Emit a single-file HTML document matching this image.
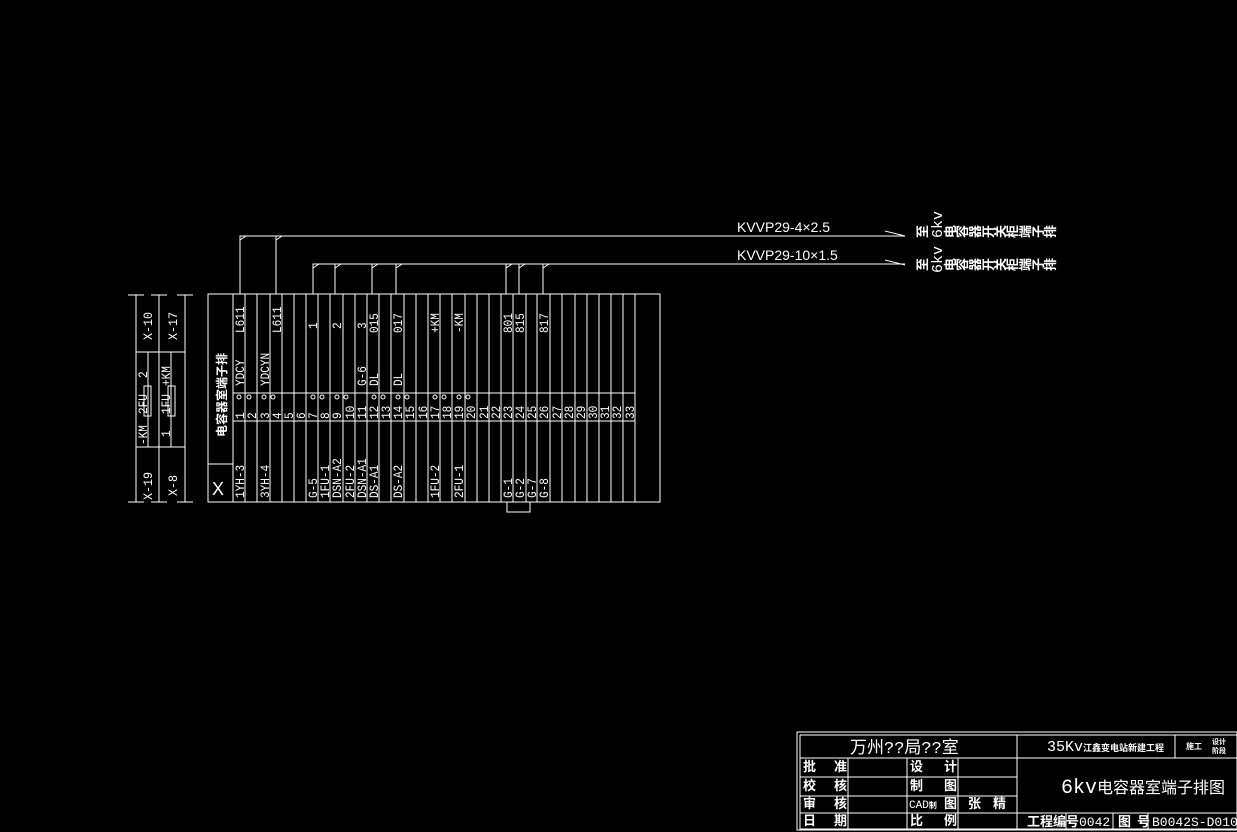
<!DOCTYPE html>
<html><head><meta charset="utf-8"><style>
html,body{margin:0;padding:0;background:#000;}
svg{display:block}
text{fill:#fff;font-family:"Liberation Mono","Noto Sans CJK SC",monospace;font-size:13px}
.c{font-family:"Liberation Sans","Noto Sans CJK SC",sans-serif}
</style></head><body>
<svg width="1237" height="832" viewBox="0 0 1237 832" xmlns="http://www.w3.org/2000/svg">
<g stroke="#fff" stroke-width="1" fill="none">
<path d="M240,294V236H905M885,231L905,236"/>
<path d="M276,294V236"/>
<path d="M313,294V264H905M885,260L905,265"/>
<path d="M335,294V264M372,294V264M396,294V264M506,294V264M519,294V264M543,294V264"/>
<path d="M240,240L246,236M276,240L282,236M313,268L319,264M335,268L341,264M372,268L378,264M396,268L402,264M506,268L512,264M519,268L525,264M543,268L549,264"/>
<rect x="208" y="294" width="452" height="208"/>
<path d="M233,294V502M245,294V502M257,294V502M270,294V502M282,294V502M294,294V502M306,294V502M318,294V502M330,294V502M343,294V502M355,294V502M367,294V502M379,294V502M391,294V502M404,294V502M416,294V502M428,294V502M440,294V502M452,294V502M465,294V502M477,294V502M489,294V502M501,294V502M513,294V502M526,294V502M537,294V502M550,294V502M562,294V502M575,294V502M587,294V502M599,294V502M611,294V502M623,294V502M635,294V502"/>
<path d="M233,393H635M233,421H635M208,464H233"/>
<path d="M507,502V512H530V502"/>
<path d="M136,295V502M159,295V502M185,295V502M128,295H144M151,295H167M177,295H193M128,502H144M151,502H167M177,502H193"/>
<path d="M136,352H185M136,447H185M148,352V447M171,352V447"/>
<rect x="144" y="386" width="7" height="30"/><rect x="168" y="386" width="7" height="30"/>
<rect x="797" y="732" width="440" height="98"/>
<path d="M800,735H1237M800,735V829H1237"/>
<path d="M1017,735V829M1175,735V758M1017,758H1237M1017,813H1237M1066,813V829M1113,813V829M1148,813V829"/>
<path d="M800,758H1017M800,777H1017M800,796H1017M800,813H1017M848,758V829M907,758V829M958,758V829"/>
</g>
<g fill="none" stroke="#fff">
<circle cx="239" cy="397" r="2"/><circle cx="249" cy="397" r="2"/>
<circle cx="264" cy="397" r="2"/><circle cx="273" cy="397" r="2"/>
<circle cx="313" cy="397" r="2"/><circle cx="322" cy="397" r="2"/>
<circle cx="337" cy="397" r="2"/><circle cx="346" cy="397" r="2"/>
<circle cx="374" cy="397" r="2"/><circle cx="383" cy="397" r="2"/>
<circle cx="398" cy="397" r="2"/><circle cx="407" cy="397" r="2"/>
<circle cx="435" cy="397" r="2"/><circle cx="444" cy="397" r="2"/>
<circle cx="459" cy="397" r="2"/><circle cx="468" cy="397" r="2"/>
</g>
<text x="737" y="232" style="font-size:14px" class="c">KVVP29-4×2.5</text>
<text x="737" y="260" style="font-size:14px" class="c">KVVP29-10×1.5</text>
<g class="c" style="font-size:10px;font-weight:bold">
<text transform="translate(927,238) rotate(-90)">至</text>
<text transform="translate(942,238) rotate(-90)" style="font-size:15px;font-weight:normal">6kv</text>
<text transform="translate(955,238) rotate(-90)">电</text><text transform="translate(967,238) rotate(-90)">容</text><text transform="translate(980,238) rotate(-90)">器</text><text transform="translate(993,238) rotate(-90)">开</text><text transform="translate(1005,238) rotate(-90)">关</text><text transform="translate(1017,238) rotate(-90)">柜</text><text transform="translate(1030,238) rotate(-90)">端</text><text transform="translate(1043,238) rotate(-90)">子</text><text transform="translate(1055,238) rotate(-90)">排</text>
<text transform="translate(927,271) rotate(-90)">至</text>
<text transform="translate(942,273) rotate(-90)" style="font-size:15px;font-weight:normal">6kv</text>
<text transform="translate(955,271) rotate(-90)">电</text><text transform="translate(967,271) rotate(-90)">容</text><text transform="translate(980,271) rotate(-90)">器</text><text transform="translate(993,271) rotate(-90)">开</text><text transform="translate(1005,271) rotate(-90)">关</text><text transform="translate(1017,271) rotate(-90)">柜</text><text transform="translate(1030,271) rotate(-90)">端</text><text transform="translate(1043,271) rotate(-90)">子</text><text transform="translate(1055,271) rotate(-90)">排</text>
</g>
<g style="font-size:14px">
<text transform="translate(152,340) rotate(-90) scale(0.9,1)">X-10</text>
<text transform="translate(177,340) rotate(-90) scale(0.9,1)">X-17</text>
<text transform="translate(152,500) rotate(-90) scale(0.9,1)">X-19</text>
<text transform="translate(177,496) rotate(-90) scale(0.9,1)">X-8</text>
</g>
<g style="font-size:12px">
<text transform="translate(147,445) rotate(-90) scale(0.85,1)">-KM</text>
<text transform="translate(147,414) rotate(-90) scale(0.85,1)">2FU</text>
<text transform="translate(147,378) rotate(-90) scale(0.85,1)">2</text>
<text transform="translate(170,437) rotate(-90) scale(0.85,1)">1</text>
<text transform="translate(170,414) rotate(-90) scale(0.85,1)">1FU</text>
<text transform="translate(170,386) rotate(-90) scale(0.85,1)">+KM</text>
</g>
<text class="c" transform="translate(226,437) rotate(-90)" style="font-size:12px;font-weight:bold">电容器室端子排</text>
<text x="212" y="495" style="font-size:18px" class="c">X</text>
<g>
<text transform="translate(244,333) rotate(-90) scale(0.85,1)">L611</text>
<text transform="translate(281,333) rotate(-90) scale(0.85,1)">L611</text>
<text transform="translate(317,329) rotate(-90) scale(0.85,1)">1</text>
<text transform="translate(341,329) rotate(-90) scale(0.85,1)">2</text>
<text transform="translate(366,329) rotate(-90) scale(0.85,1)">3</text>
<text transform="translate(378,333) rotate(-90) scale(0.85,1)">015</text>
<text transform="translate(402,333) rotate(-90) scale(0.85,1)">017</text>
<text transform="translate(439,333) rotate(-90) scale(0.85,1)">+KM</text>
<text transform="translate(463,333) rotate(-90) scale(0.85,1)">-KM</text>
<text transform="translate(512,333) rotate(-90) scale(0.85,1)">801</text>
<text transform="translate(524,333) rotate(-90) scale(0.85,1)">815</text>
<text transform="translate(548,333) rotate(-90) scale(0.85,1)">817</text>
<text transform="translate(244,386) rotate(-90) scale(0.85,1)">YDCY</text>
<text transform="translate(269,386) rotate(-90) scale(0.85,1)">YDCYN</text>
<text transform="translate(366,386) rotate(-90) scale(0.85,1)">G-6</text>
<text transform="translate(378,386) rotate(-90) scale(0.85,1)">DL</text>
<text transform="translate(402,386) rotate(-90) scale(0.85,1)">DL</text>
</g>
<g>
<text transform="translate(244,419) rotate(-90) scale(0.85,1)">1</text><text transform="translate(256,419) rotate(-90) scale(0.85,1)">2</text><text transform="translate(269,419) rotate(-90) scale(0.85,1)">3</text><text transform="translate(281,419) rotate(-90) scale(0.85,1)">4</text><text transform="translate(293,419) rotate(-90) scale(0.85,1)">5</text><text transform="translate(305,419) rotate(-90) scale(0.85,1)">6</text><text transform="translate(317,419) rotate(-90) scale(0.85,1)">7</text><text transform="translate(329,419) rotate(-90) scale(0.85,1)">8</text><text transform="translate(341,419) rotate(-90) scale(0.85,1)">9</text>
<text transform="translate(354,419) rotate(-90) scale(0.85,1)">10</text><text transform="translate(366,419) rotate(-90) scale(0.85,1)">11</text><text transform="translate(378,419) rotate(-90) scale(0.85,1)">12</text><text transform="translate(390,419) rotate(-90) scale(0.85,1)">13</text><text transform="translate(402,419) rotate(-90) scale(0.85,1)">14</text><text transform="translate(414,419) rotate(-90) scale(0.85,1)">15</text><text transform="translate(427,419) rotate(-90) scale(0.85,1)">16</text><text transform="translate(439,419) rotate(-90) scale(0.85,1)">17</text><text transform="translate(451,419) rotate(-90) scale(0.85,1)">18</text><text transform="translate(463,419) rotate(-90) scale(0.85,1)">19</text><text transform="translate(475,419) rotate(-90) scale(0.85,1)">20</text><text transform="translate(488,419) rotate(-90) scale(0.85,1)">21</text><text transform="translate(500,419) rotate(-90) scale(0.85,1)">22</text><text transform="translate(512,419) rotate(-90) scale(0.85,1)">23</text><text transform="translate(524,419) rotate(-90) scale(0.85,1)">24</text><text transform="translate(536,419) rotate(-90) scale(0.85,1)">25</text><text transform="translate(548,419) rotate(-90) scale(0.85,1)">26</text><text transform="translate(561,419) rotate(-90) scale(0.85,1)">27</text><text transform="translate(573,419) rotate(-90) scale(0.85,1)">28</text><text transform="translate(585,419) rotate(-90) scale(0.85,1)">29</text><text transform="translate(597,419) rotate(-90) scale(0.85,1)">30</text><text transform="translate(609,419) rotate(-90) scale(0.85,1)">31</text><text transform="translate(621,419) rotate(-90) scale(0.85,1)">32</text><text transform="translate(634,419) rotate(-90) scale(0.85,1)">33</text>
</g>
<g>
<text transform="translate(244,498) rotate(-90) scale(0.85,1)">1YH-3</text>
<text transform="translate(269,498) rotate(-90) scale(0.85,1)">3YH-4</text>
<text transform="translate(317,498) rotate(-90) scale(0.85,1)">G-5</text>
<text transform="translate(329,498) rotate(-90) scale(0.85,1)">1FU-1</text>
<text transform="translate(341,498) rotate(-90) scale(0.85,1)">DSN-A2</text>
<text transform="translate(354,498) rotate(-90) scale(0.85,1)">2FU-2</text>
<text transform="translate(366,498) rotate(-90) scale(0.85,1)">DSN-A1</text>
<text transform="translate(378,498) rotate(-90) scale(0.85,1)">DS-A1</text>
<text transform="translate(402,498) rotate(-90) scale(0.85,1)">DS-A2</text>
<text transform="translate(439,498) rotate(-90) scale(0.85,1)">1FU-2</text>
<text transform="translate(463,498) rotate(-90) scale(0.85,1)">2FU-1</text>
<text transform="translate(512,498) rotate(-90) scale(0.85,1)">G-1</text>
<text transform="translate(524,498) rotate(-90) scale(0.85,1)">G-2</text>
<text transform="translate(536,498) rotate(-90) scale(0.85,1)">G-7</text>
<text transform="translate(548,498) rotate(-90) scale(0.85,1)">G-8</text>
</g>
<g class="c">
<text x="850" y="753" style="font-size:17px">万州??局??室</text>
<text x="1047" y="751" style="font-size:15px">35Kv<tspan style="font-size:9px;font-weight:bold">江鑫变电站新建工程</tspan></text>
<text x="1186" y="749" style="font-size:8px;font-weight:bold">施工</text>
<text x="1212" y="744" style="font-size:7px;font-weight:bold">设计</text>
<text x="1212" y="753" style="font-size:7px;font-weight:bold">阶段</text>
<text x="1061" y="793" style="font-size:20px">6kv<tspan style="font-size:16px">电容器室端子排图</tspan></text>
<g style="font-size:8px;font-weight:bold">
<text x="803" y="771">批</text><text x="834" y="771">准</text>
<text x="803" y="790">校</text><text x="834" y="790">核</text>
<text x="803" y="808">审</text><text x="834" y="808">核</text>
<text x="803" y="825">日</text><text x="834" y="825">期</text>
<text x="910" y="771">设</text><text x="944" y="771">计</text>
<text x="910" y="790">制</text><text x="944" y="790">图</text>
<text x="944" y="808">图</text>
<text x="910" y="825">比</text><text x="944" y="825">例</text>
<text x="968" y="808">张</text><text x="993" y="808">精</text>
<text x="1027" y="826">工程编号</text>
<text x="1118" y="826">图</text><text x="1137" y="826">号</text>
</g>
<text x="909" y="808" style="font-size:11px">CAD<tspan style="font-size:8px;font-weight:bold">制</tspan></text>
<text x="1079" y="826" style="font-size:13px">0042</text>
<text x="1152" y="826" style="font-size:13px">B0042S-D0102-3</text>
</g>
</svg>
</body></html>
